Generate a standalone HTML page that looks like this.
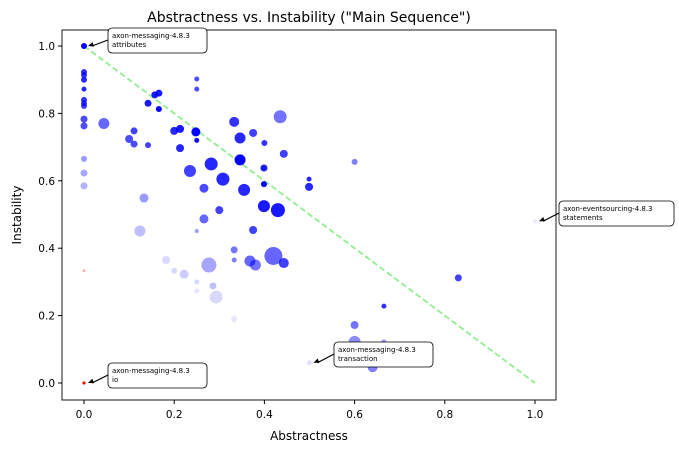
<!DOCTYPE html>
<html><head><meta charset="utf-8"><style>
body{margin:0;background:#fff;font-family:"Liberation Sans","DejaVu Sans",sans-serif}
svg text{font-family:"DejaVu Sans","Liberation Sans",sans-serif}
</style></head><body>
<svg id="chart" width="679" height="453" xmlns="http://www.w3.org/2000/svg">
<text x="309" y="22" text-anchor="middle" font-size="14">Abstractness vs. Instability ("Main Sequence")</text>
<text x="309" y="440" text-anchor="middle" font-size="12">Abstractness</text>
<text transform="translate(21,215) rotate(-90)" text-anchor="middle" font-size="12">Instability</text>
<g id="ticks"></g>
<g id="marks"></g>
<rect x="62" y="30" width="494" height="370" fill="none" stroke="#000" stroke-width="0.9"/>
<g id="ann"></g>
</svg>
<script>
const abstractness=[0,0,0,0,0,0,0,0,0,0,0,0,0,0,0,0.044,0.142,0.157,0.166,0.166,0.25,0.25,0.435,0.111,0.10,0.111,0.142,0.2,0.213,0.248,0.25,0.213,0.333,0.346,0.375,0.40,0.443,0.346,0.399,0.399,0.499,0.499,0.235,0.282,0.308,0.266,0.355,0.399,0.43,0.3,0.133,0.266,0.124,0.25,0.375,0.333,0.333,0.42,0.368,0.38,0.443,0.277,0.182,0.2,0.222,0.25,0.25,0.286,0.293,0.333,0.5,0.6,0.83,0.665,0.6,0.6,0.665,0.64,1.0,0];
const instability=[1.0,0.923,0.914,0.90,0.872,0.84,0.83,0.822,0.783,0.763,0.665,0.623,0.585,0.333,0,0.77,0.83,0.855,0.86,0.813,0.902,0.872,0.79,0.748,0.724,0.709,0.706,0.748,0.754,0.745,0.72,0.697,0.775,0.727,0.742,0.712,0.68,0.662,0.638,0.59,0.605,0.582,0.629,0.65,0.605,0.578,0.573,0.525,0.513,0.513,0.549,0.487,0.451,0.451,0.454,0.395,0.365,0.377,0.362,0.35,0.356,0.35,0.365,0.333,0.323,0.3,0.273,0.288,0.255,0.19,0.06,0.656,0.312,0.228,0.172,0.122,0.122,0.047,0.48,0];
const sizeMetric=[3,3,3,3,2.5,3,3,3,3.5,3.5,3,3.5,3.5,1.5,1.5,5.5,3.5,3.5,3.5,3,2.5,2.5,6.5,3.5,4,3.5,3,4,4,4.5,2.5,4,5,5.5,4,3,4,5.5,3.5,3,2.5,4,6,6.5,6.5,4.5,6,6,7,4,4.5,4.5,5.5,2,4,3.5,2.5,9,5.5,5.5,5,7.5,4,3,4.5,2.5,2.5,3.5,6.5,3,2.5,3,3.5,2.5,4,6,2.5,5,2,1.5];
const distanceAlpha=[1,0.8,0.8,0.85,0.85,0.8,0.75,0.75,0.7,0.7,0.4,0.35,0.3,0.3,1,0.6,0.9,0.9,0.9,1,0.7,0.7,0.55,0.75,0.7,0.7,0.75,0.85,0.9,1,0.95,0.85,0.8,0.85,0.75,0.8,0.75,1,0.9,1,0.85,0.85,0.75,0.85,0.85,0.7,0.85,0.9,0.9,0.75,0.4,0.6,0.25,0.4,0.75,0.55,0.5,0.6,0.6,0.55,0.75,0.35,0.15,0.15,0.2,0.15,0.1,0.25,0.15,0.1,0.12,0.5,0.75,0.8,0.55,0.45,0.4,0.5,0.08,1];
const xTicks=[0,0.2,0.4,0.6,0.8,1.0];
const yTicks=[0,0.2,0.4,0.6,0.8,1.0];
const annLabels=[["axon-messaging-4.8.3","attributes",0,1.0,108,28],["axon-messaging-4.8.3","io",0,0,108,363],["axon-messaging-4.8.3","transaction",0.5,0.06,334,342],["axon-eventsourcing-4.8.3","statements",1.0,0.48,559,201]];
const X=v=>84+451*v, Y=v=>383-337*v;
const NS="http://www.w3.org/2000/svg";
function mk(t,a,p){const e=document.createElementNS(NS,t);for(const k in a)e.setAttribute(k,a[k]);p.appendChild(e);return e;}
const tk=document.getElementById('ticks');
xTicks.forEach(v=>{
  const l=mk('line',{x1:X(v),x2:X(v),y1:400,y2:404,stroke:'#000'},tk);
  
  
  const t=mk('text',{x:X(v),y:418,'text-anchor':'middle','font-size':10.5},tk);t.textContent=v.toFixed(1);
  
  
});
yTicks.forEach(v=>{
  const l=mk('line',{x1:58,x2:62,y1:Y(v),y2:Y(v),stroke:'#000'},tk);
  
  
  const t=mk('text',{x:55,y:Y(v)+4,'text-anchor':'end','font-size':10.5},tk);t.textContent=v.toFixed(1);
  
  
});
const mg=document.getElementById('marks');
const ln=mk('line',{x1:X(0),y1:Y(1),x2:X(1),y2:Y(0),stroke:'#90ee90','stroke-width':1.8,'stroke-dasharray':'6,3'},mg);


abstractness.forEach((a,i)=>{
  const red=(a===0&&(instability[i]===0||instability[i]===0.333));
  const c=mk('circle',{cx:X(a),cy:Y(instability[i]),r:sizeMetric[i],fill:red?'#ff0000':'#0000ff','fill-opacity':distanceAlpha[i]},mg);
  
  
});
const an=document.getElementById('ann');
annLabels.forEach(d=>{
  const g=mk('g',{},an);
  
  
  const w=d[0].length>20?115:99;
  mk('rect',{x:d[4],y:d[5],width:w,height:25,rx:4,fill:'#fff',stroke:'#000','stroke-width':0.8},g);
  const t1=mk('text',{x:d[4]+4,y:d[5]+10,'font-size':7},g);t1.textContent=d[0];
  const t2=mk('text',{x:d[4]+4,y:d[5]+19,'font-size':7},g);t2.textContent=d[1];
  const px=X(d[2])+4, py=Y(d[3]);
  mk('line',{x1:d[4],y1:d[5]+12,x2:px+4,y2:py,stroke:'#000','stroke-width':1.2},g);
  const ang=Math.atan2(d[5]+12-py,d[4]-px);
  const s=6;
  mk('polygon',{points:`${px},${py} ${px+s*Math.cos(ang-0.4)},${py+s*Math.sin(ang-0.4)} ${px+s*Math.cos(ang+0.4)},${py+s*Math.sin(ang+0.4)}`,fill:'#000'},g);
});
</script>
</body></html>
